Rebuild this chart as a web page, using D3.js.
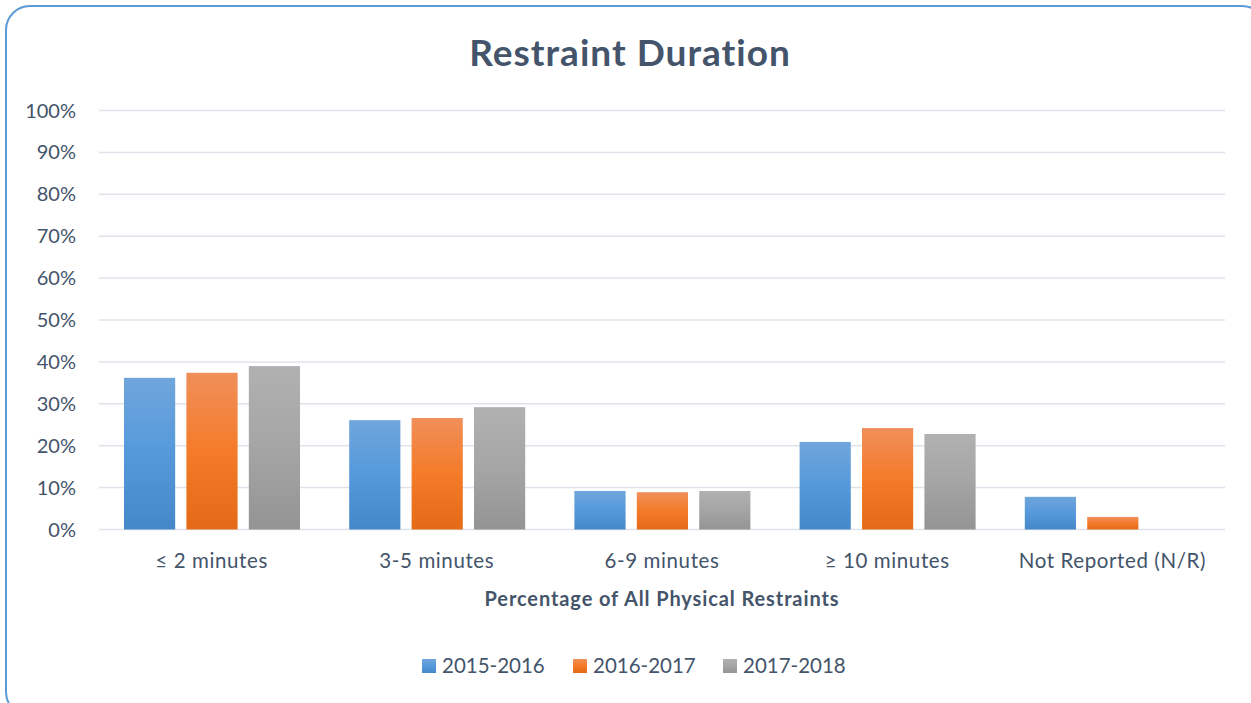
<!DOCTYPE html>
<html>
<head>
<meta charset="utf-8">
<script src="https://cdn.jsdelivr.net/npm/d3@7"></script>
<style>
  body { margin: 0; background: #fff; }
  text { font-family: Lato, "Open Sans", sans-serif; fill: #44546a; }
</style>
</head>
<body>
<div id="chart"></div>
<script>
var categories = ["\u2264 2 minutes", "3-5 minutes", "6-9 minutes", "\u2265 10 minutes", "Not Reported (N/R)"]
var seriesNames = ["2015-2016", "2016-2017", "2017-2018"]
var v2015 = [36.2, 26.1, 9.2, 20.9, 7.8]
var v2016 = [37.4, 26.6, 8.9, 24.2, 3.0]
var v2017 = [39.0, 29.2, 9.2, 22.8, 0]
var yTicks = [0, 10, 20, 30, 40, 50, 60, 70, 80, 90, 100]

var width = 1251
var height = 703
var plotLeft = 99, plotRight = 1225, plotTop = 110.5, plotBottom = 529.5

var gradStops = [
    ["#70a6dc", "#5599db", "#4588c8"],
    ["#f08f5a", "#f47b29", "#e46a18"],
    ["#b1b1b1", "#a5a5a5", "#949494"]
]

var svg = d3.select("#chart").append("svg").attr("width", width).attr("height", height)

var defs = svg.append("defs")
gradStops.forEach(function(s, i){
    var g = defs.append("linearGradient").attr("id", "grad" + i)
        .attr("x1", 0).attr("y1", 0).attr("x2", 0).attr("y2", 1)
    g.append("stop").attr("offset", "0%").attr("stop-color", s[0])
    g.append("stop").attr("offset", "50%").attr("stop-color", s[1])
    g.append("stop").attr("offset", "100%").attr("stop-color", s[2])
})

// outer frame
svg.append("rect")
    .attr("x", 6).attr("y", 6).attr("width", 1260).attr("height", 710)
    .attr("rx", 24).attr("ry", 24)
    .attr("fill", "#fff").attr("stroke", "#5b9bd5").attr("stroke-width", 2)

var x0 = d3.scaleBand().domain(categories).range([plotLeft, plotRight])
var x1 = d3.scaleBand().domain(seriesNames).range([25, 201]).paddingInner(0.18)
var y = d3.scaleLinear().domain([0, 100]).range([plotBottom, plotTop])

// gridlines
svg.selectAll(".grid")
    .data(yTicks)
    .enter()
    .append("line")
    .attr("x1", plotLeft).attr("x2", plotRight)
    .attr("y1", function(d){ return y(d) }).attr("y2", function(d){ return y(d) })
    .attr("stroke", "#dfe3e9").attr("stroke-width", 1.5)

// y labels
svg.selectAll(".ylab")
    .data(yTicks)
    .enter()
    .append("text")
    .attr("x", 76).attr("y", function(d){ return y(d) })
    .attr("dy", "0.35em")
    .attr("text-anchor", "end")
    .style("font-size", "20px")
    .text(function(d){ return d + "%" })

var allSeries = [v2015, v2016, v2017]
allSeries.forEach(function(vals, si){
    svg.selectAll(".bar" + si)
        .data(categories)
        .enter()
        .append("rect")
        .attr("x", function(d){ return x0(d) + x1(seriesNames[si]) })
        .attr("y", function(d, i){ return y(vals[i]) })
        .attr("width", x1.bandwidth())
        .attr("height", function(d, i){ return plotBottom - y(vals[i]) })
        .attr("fill", "url(#grad" + si + ")")
})

// category labels
svg.selectAll(".xlab")
    .data(categories)
    .enter()
    .append("text")
    .attr("x", function(d){ return x0(d) + x0.bandwidth() / 2 })
    .attr("y", 561)
    .attr("dy", "0.35em")
    .attr("text-anchor", "middle")
    .style("font-size", "20.5px").style("letter-spacing", "0.6px")
    .text(function(d){ return d })

svg.append("text")
    .attr("x", 662).attr("y", 599).attr("dy", "0.35em")
    .attr("text-anchor", "middle")
    .style("font-size", "20px").style("font-weight", "bold").style("letter-spacing", "0.9px")
    .text("Percentage of All Physical Restraints")

svg.append("text")
    .attr("x", 630).attr("y", 53).attr("dy", "0.35em")
    .attr("text-anchor", "middle")
    .style("font-size", "37px").style("font-weight", "bold").style("letter-spacing", "1px")
    .text("Restraint Duration")

// legend
var legendX = [422, 573, 723]
var lg = svg.selectAll(".legend")
    .data(seriesNames)
    .enter()
    .append("g")
    .attr("transform", function(d, i){ return "translate(" + legendX[i] + ",666)" })
lg.append("rect")
    .attr("x", 0).attr("y", -7).attr("width", 14).attr("height", 14)
    .attr("fill", function(d, i){ return "url(#grad" + i + ")" })
lg.append("text")
    .attr("x", 20).attr("y", 0).attr("dy", "0.35em")
    .style("font-size", "20.5px")
    .text(function(d){ return d })
</script>
</body>
</html>
